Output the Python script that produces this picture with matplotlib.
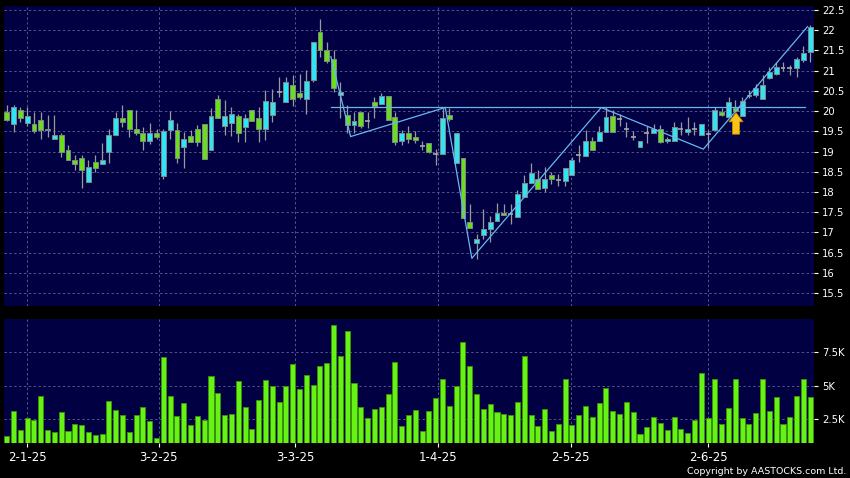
import matplotlib
matplotlib.use("Agg")
import matplotlib.pyplot as plt
import numpy as np

# ---------------- data ----------------
opens = [19.98, 19.69, 20.04, 19.71, 19.69, 19.79, 19.53, 19.30, 19.40, 19.05,
         18.80, 18.85, 18.25, 18.75, 18.70, 19.00, 19.40, 19.84, 20.04, 19.55,
         19.47, 19.26, 19.47, 18.39, 19.53, 19.53, 19.12, 19.39, 19.57, 19.67,
         19.04, 20.31, 19.63, 19.70, 19.88, 19.60, 20.04, 19.84, 19.55, 19.90,
         20.48, 20.22, 20.64, 20.45, 20.31, 20.77, 21.95, 21.51, 21.30, 20.40,
         19.90, 19.65, 19.98, 19.75, 20.22, 20.17, 20.37, 19.86, 19.26, 19.46,
         19.37, 19.13, 19.20, 18.95, 18.94, 19.90, 18.72, 18.83, 17.26, 16.73,
         16.94, 17.09, 17.27, 17.49, 17.45, 17.38, 17.88, 18.23, 18.31, 18.09,
         18.43, 18.29, 18.27, 18.42, 18.91, 18.88, 19.27, 19.27, 19.49, 19.88,
         19.80, 19.55, 19.37, 19.12, 19.47, 19.45, 19.55, 19.25, 19.27, 19.57,
         19.49, 19.57, 19.41, 19.43, 19.53, 19.98, 19.86, 20.07, 19.88, 20.37,
         20.40, 20.31, 20.81, 20.91, 21.06, 21.06, 21.06, 21.26, 21.47]
closes = [19.79, 20.09, 19.82, 19.88, 19.51, 19.53, 19.55, 19.40, 19.00, 18.80,
          18.69, 18.54, 18.62, 18.60, 18.80, 19.42, 19.84, 19.74, 19.55, 19.46,
          19.26, 19.46, 19.35, 19.51, 19.79, 18.83, 19.30, 19.24, 19.24, 18.81,
          19.89, 19.82, 19.88, 19.93, 19.47, 19.84, 19.75, 19.55, 20.26, 20.22,
          20.48, 20.71, 20.31, 20.36, 20.75, 21.70, 21.51, 21.25, 20.56, 20.48,
          19.65, 19.75, 19.62, 19.75, 20.12, 20.37, 19.78, 19.24, 19.45, 19.32,
          19.28, 19.13, 18.99, 18.95, 19.84, 19.80, 19.46, 17.36, 17.12, 16.84,
          17.09, 17.26, 17.49, 17.42, 17.45, 17.96, 18.21, 18.46, 18.08, 18.31,
          18.31, 18.29, 18.60, 18.79, 18.91, 19.27, 19.05, 19.49, 19.86, 19.49,
          19.80, 19.55, 19.37, 19.27, 19.47, 19.55, 19.24, 19.32, 19.60, 19.57,
          19.55, 19.57, 19.67, 19.43, 20.02, 19.90, 20.22, 20.00, 20.25, 20.41,
          20.56, 20.64, 20.96, 21.10, 21.06, 21.06, 21.30, 21.43, 22.09]
highs = [20.15, 20.15, 20.09, 20.09, 19.98, 19.98, 19.90, 19.90, 19.46, 19.16,
         18.91, 18.91, 18.80, 18.91, 19.21, 19.57, 19.98, 20.15, 20.04, 20.04,
         19.60, 19.70, 19.55, 19.55, 20.00, 19.71, 19.48, 19.53, 19.65, 19.67,
         20.07, 20.41, 20.27, 20.10, 19.93, 19.93, 20.04, 20.10, 20.52, 20.55,
         20.85, 20.85, 20.89, 20.91, 21.02, 21.72, 22.29, 21.72, 21.51, 20.73,
         20.15, 19.98, 19.98, 19.98, 20.36, 20.45, 20.37, 19.98, 19.53, 19.62,
         19.50, 19.27, 19.20, 19.07, 20.07, 20.07, 19.46, 18.83, 17.70, 16.97,
         17.57, 17.40, 17.73, 17.70, 17.71, 18.05, 18.42, 18.72, 18.55, 18.63,
         18.50, 18.45, 18.60, 18.87, 19.15, 19.53, 19.37, 19.62, 20.09, 20.02,
         19.93, 19.74, 19.50, 19.27, 19.62, 19.69, 19.65, 19.37, 19.74, 19.74,
         19.86, 19.74, 19.67, 19.53, 20.10, 20.07, 20.36, 20.27, 20.36, 20.52,
         20.68, 20.89, 21.10, 21.22, 21.22, 21.14, 21.35, 21.60, 22.13]
lows = [19.76, 19.49, 19.72, 19.63, 19.45, 19.32, 19.36, 19.30, 18.87, 18.80,
        18.55, 18.10, 18.25, 18.50, 18.69, 18.72, 19.40, 19.61, 19.36, 19.40,
        19.03, 19.18, 19.30, 18.31, 19.32, 18.72, 18.60, 19.24, 19.13, 18.81,
        19.04, 19.82, 19.41, 19.38, 19.24, 19.24, 19.75, 19.24, 19.28, 19.74,
        20.36, 20.22, 20.13, 20.31, 19.94, 20.71, 21.34, 21.18, 20.48, 19.82,
        19.45, 19.47, 19.58, 19.58, 19.82, 20.17, 19.78, 19.16, 19.16, 19.20,
        19.20, 19.03, 18.97, 18.67, 18.94, 19.75, 18.72, 17.36, 17.10, 16.35,
        16.84, 16.76, 17.27, 17.42, 17.22, 17.38, 17.88, 18.23, 18.08, 18.00,
        18.20, 18.16, 18.15, 18.42, 18.75, 18.88, 19.05, 19.27, 19.49, 19.49,
        19.62, 19.36, 19.29, 19.12, 19.21, 19.45, 19.20, 19.22, 19.27, 19.41,
        19.41, 19.41, 19.41, 19.08, 19.53, 19.88, 19.86, 19.98, 19.88, 20.32,
        20.36, 20.31, 20.79, 20.89, 20.98, 20.89, 20.85, 21.22, 21.22]
volumes_k = [1.25, 3.13, 1.70, 2.58, 2.45, 4.25, 1.75, 1.58, 3.08, 1.65,
             2.15, 2.08, 1.60, 1.33, 1.45, 3.88, 3.20, 2.80, 1.53, 2.85,
             3.40, 2.40, 1.10, 7.20, 4.25, 2.75, 3.70, 2.05, 2.78, 2.43,
             5.75, 4.50, 2.83, 2.90, 5.40, 3.40, 1.78, 3.95, 5.43, 5.00,
             3.80, 5.00, 6.65, 4.78, 5.83, 5.05, 6.50, 6.70, 9.58, 7.25,
             9.10, 5.20, 3.43, 2.63, 3.30, 3.43, 4.43, 6.80, 1.98, 2.80,
             3.18, 1.63, 3.13, 4.13, 5.53, 3.53, 5.03, 8.25, 6.50, 4.40,
             3.25, 3.65, 3.03, 2.93, 2.83, 3.78, 7.25, 2.85, 2.00, 3.28,
             1.65, 2.13, 5.50, 2.10, 2.85, 3.48, 2.70, 3.70, 4.85, 3.13,
             2.90, 3.80, 3.03, 1.40, 1.90, 2.65, 2.20, 1.75, 2.65, 1.78,
             1.48, 2.48, 5.95, 2.63, 5.50, 2.15, 3.33, 5.53, 2.63, 2.15,
             2.95, 5.53, 3.15, 4.20, 2.15, 2.65, 4.28, 5.50, 4.18]

date_labels = ["2-1-25", "3-2-25", "3-3-25", "1-4-25", "2-5-25", "2-6-25"]
date_idx = [3, 22.3, 42.4, 63.4, 82.8, 103]

# pattern (zig-zag) line and neckline
zz_idx = [47.6, 50.5, 64.4, 68.3, 87.3, 102.3, 117.6]
zz_price = [21.35, 19.37, 20.09, 16.36, 20.09, 19.06, 22.09]
neck_price = 20.09
neck_from, neck_to = 47.6, 117.2
arrow_idx, arrow_tip, arrow_base = 107.1, 19.96, 19.43

price_ticks = [15.5, 16, 16.5, 17, 17.5, 18, 18.5, 19, 19.5, 20, 20.5, 21, 21.5, 22, 22.5]
vol_ticks = [2.5, 5, 7.5]
vol_tick_labels = ["2.5K", "5K", "7.5K"]

# ---------------- style ----------------
BG = "#000042"
GRID = "#55558c"
UP = "#30e4f4"
DOWN = "#6ade18"
DOJI = "#a8a8a8"
WICK = "#9a9a9a"
EDGE = "#7a8a8a"
VOL = "#66f214"
VOL_EDGE = "#3a8f0c"
LINE = "#68b8ee"

W, H = 850, 478
fig = plt.figure(figsize=(W / 100, H / 100), dpi=100, facecolor="black")
ax = fig.add_axes([4 / W, 1 - 306 / H, 810 / W, 300 / H])
axv = fig.add_axes([4 / W, 1 - 443.3 / H, 810 / W, 124.3 / H])

n = len(opens)
x = np.arange(n)
o = np.array(opens); c = np.array(closes)
h = np.array(highs); l = np.array(lows)

for a in (ax, axv):
    a.set_facecolor(BG)
    for s in a.spines.values():
        s.set_visible(False)
    a.set_xlim(-0.4, 118.55)
    a.set_xticks(date_idx)
    a.grid(True, color=GRID, linestyle=(0, (2.5, 2.5)), linewidth=0.7)
    a.set_axisbelow(True)
    a.yaxis.tick_right()

# wicks
ax.vlines(x, l, h, color=WICK, linewidth=0.9, zorder=2)
# bodies
bw = 0.72
up = c > o
dn = c < o
dj = c == o
ax.bar(x[up], (c - o)[up], bottom=o[up], width=bw, color=UP, edgecolor=EDGE,
       linewidth=0.7, zorder=3)
ax.bar(x[dn], (o - c)[dn], bottom=c[dn], width=bw, color=DOWN, edgecolor=EDGE,
       linewidth=0.7, zorder=3)
ax.hlines(c[dj], x[dj] - bw / 2, x[dj] + bw / 2, color=DOJI, linewidth=1.2, zorder=3)

# pattern lines
ax.plot(zz_idx, zz_price, color=LINE, linewidth=0.9, zorder=4)
ax.plot([neck_from, neck_to], [neck_price, neck_price], color=LINE, linewidth=0.9, zorder=4)
ax.annotate("", xy=(arrow_idx, arrow_tip), xytext=(arrow_idx, arrow_base),
            arrowprops=dict(arrowstyle="simple,head_width=1.0,head_length=0.65,tail_width=0.5",
                            fc="#f7c21a", ec="#d08a00", lw=0.6, shrinkA=0, shrinkB=0),
            zorder=5)

ax.set_ylim(15.18, 22.6)
ax.set_yticks(price_ticks)
ax.set_yticklabels([f"{t:g}" for t in price_ticks])
ax.tick_params(axis="y", colors="white", labelsize=7.2, length=3, width=0.8, pad=3)
ax.tick_params(axis="x", length=0, labelbottom=False)

# volume
axv.bar(x, volumes_k, width=0.74, color=VOL, edgecolor=VOL_EDGE, linewidth=0.7, zorder=3)
axv.set_ylim(0.72, 10.0)
axv.set_yticks(vol_ticks)
axv.set_yticklabels(vol_tick_labels)
axv.set_xticklabels(date_labels)
axv.tick_params(axis="y", colors="white", labelsize=7.2, length=3, width=0.8, pad=3)
axv.tick_params(axis="x", colors="white", labelsize=8.5, length=3, width=0.8, pad=2.5)

fig.text(846 / W, 1 - 472 / H, "Copyright by AASTOCKS.com Ltd.", ha="right", va="center",
         color="white", fontsize=6.8)

fig.savefig("out.png", dpi=100, facecolor="black")
